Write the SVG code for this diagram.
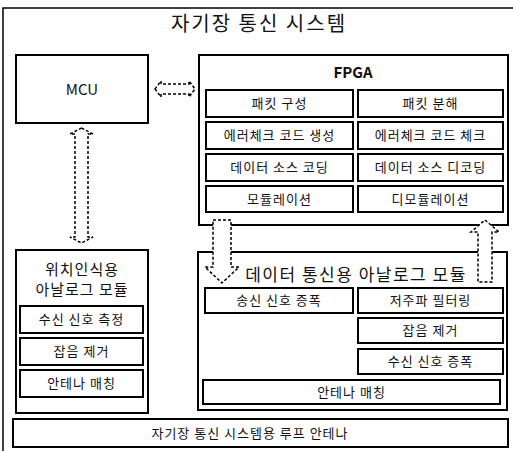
<svg xmlns="http://www.w3.org/2000/svg" width="513" height="451" viewBox="0 0 513 451">
<style>
.box{fill:#fff;stroke:#000;stroke-width:2}
.inner{fill:#fff;stroke:#000;stroke-width:2}
.t{font-family:"Noto Sans CJK KR","Noto Sans",sans-serif;fill:#111;text-anchor:middle}
.s{font-size:13px;letter-spacing:1px}
.m{font-size:15px}
.l{font-size:17px;letter-spacing:1.5px}
.arr{fill:#fff;stroke:#000;stroke-width:1.5;stroke-dasharray:3,2}
</style>
<rect width="513" height="451" fill="#fff"/>
<g id="system">
<rect x="3" y="8" width="530" height="460" fill="none" stroke="#000" stroke-width="1.5"/>
<text class="t" x="259" y="31" font-size="20" letter-spacing="2">자기장 통신 시스템</text>
</g>
<g id="mcu">
<rect class="box" x="16" y="55" width="132" height="68"/>
<text class="t m" x="82" y="95">MCU</text>
</g>
<g id="fpga">
<rect class="box" x="199" y="55" width="309" height="170"/>
<text class="t m" x="353" y="78" font-weight="bold">FPGA</text>
<rect class="inner" x="206" y="90" width="147" height="27"/>
<text class="t s" x="279.5" y="108">패킷 구성</text>
<rect class="inner" x="358" y="90" width="145" height="27"/>
<text class="t s" x="430.5" y="108">패킷 분해</text>
<rect class="inner" x="206" y="122" width="147" height="27"/>
<text class="t s" x="279.5" y="140">에러체크 코드 생성</text>
<rect class="inner" x="358" y="122" width="145" height="27"/>
<text class="t s" x="430.5" y="140">에러체크 코드 체크</text>
<rect class="inner" x="206" y="154" width="147" height="27"/>
<text class="t s" x="279.5" y="172">데이터 소스 코딩</text>
<rect class="inner" x="358" y="154" width="145" height="27"/>
<text class="t s" x="430.5" y="172">데이터 소스 디코딩</text>
<rect class="inner" x="206" y="186" width="147" height="26"/>
<text class="t s" x="279.5" y="204">모듈레이션</text>
<rect class="inner" x="358" y="186" width="145" height="26"/>
<text class="t s" x="430.5" y="204">디모듈레이션</text>
</g>
<g id="position-module">
<rect class="box" x="16" y="250" width="132" height="163"/>
<text class="t" x="82" y="275" font-size="15" letter-spacing="1">위치인식용</text>
<text class="t" x="82" y="295" font-size="15" letter-spacing="1">아날로그 모듈</text>
<rect class="inner" x="20" y="306" width="123" height="27"/>
<text class="t s" x="81.5" y="324">수신 신호 측정</text>
<rect class="inner" x="20" y="338" width="123" height="27"/>
<text class="t s" x="81.5" y="356">잡음 제거</text>
<rect class="inner" x="20" y="370" width="123" height="27"/>
<text class="t s" x="81.5" y="388">안테나 매칭</text>
</g>
<g id="data-module">
<rect class="box" x="198" y="252" width="309" height="158"/>
<text class="t l" x="356" y="281">데이터 통신용 아날로그 모듈</text>
<rect class="inner" x="205" y="288" width="148" height="25"/>
<text class="t s" x="279" y="305">송신 신호 증폭</text>
<rect class="inner" x="358" y="288" width="145" height="25"/>
<text class="t s" x="430.5" y="305">저주파 필터링</text>
<rect class="inner" x="358" y="318" width="145" height="25"/>
<text class="t s" x="430.5" y="335">잡음 제거</text>
<rect class="inner" x="358" y="349" width="145" height="25"/>
<text class="t s" x="430.5" y="366">수신 신호 증폭</text>
<rect class="inner" x="203" y="380" width="297" height="24"/>
<text class="t s" x="351.5" y="397">안테나 매칭</text>
</g>
<g id="loop-antenna">
<rect class="box" x="13" y="419" width="495" height="28"/>
<text class="t s" x="250" y="438">자기장 통신 시스템용 루프 안테나</text>
</g>
<g id="connectors">
<path class="arr" d="M155,89 L161,81 L161,84 L189,84 L189,81 L195,89 L189,97 L189,94 L161,94 L161,97 Z"/>
<path class="arr" d="M81.5,128 L93,134 L88,134 L88,237 L93,237 L81.5,243 L70,237 L75,237 L75,134 L70,134 Z"/>
<path class="arr" d="M213,220 L231,220 L231,267 L239,267 L222,283 L205,267 L213,267 Z"/>
<path class="arr" d="M485,220 L499,232 L492,232 L492,282 L478,282 L478,232 L471,232 Z"/>
</g>
</svg>
